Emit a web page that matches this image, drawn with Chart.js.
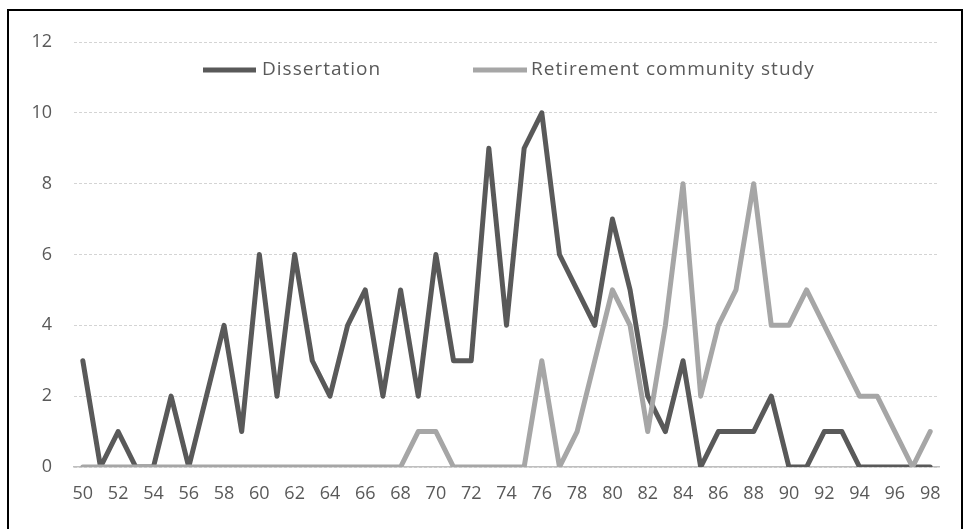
<!DOCTYPE html>
<html><head><meta charset="utf-8">
<script src="https://cdn.jsdelivr.net/npm/chart.js@4/dist/chart.umd.min.js"></script>
<style>
html,body{margin:0;padding:0;background:#fff;}
#wrap{position:relative;width:964px;height:529px;overflow:hidden;background:#fff;}
#frame{position:absolute;left:7px;top:9px;width:956px;height:560px;border:2px solid #000;box-sizing:border-box;pointer-events:none;}
canvas{position:absolute;left:0;top:0;}
</style></head><body>
<div id="wrap"><canvas id="c" width="964" height="529"></canvas><div id="frame"></div></div>
<script>
const categories = ['50','51','52','53','54','55','56','57','58','59','60','61','62','63','64','65','66','67','68','69','70','71','72','73','74','75','76','77','78','79','80','81','82','83','84','85','86','87','88','89','90','91','92','93','94','95','96','97','98'];
const dissertation = [3,0,1,0,0,2,0,2,4,1,6,2,6,3,2,4,5,2,5,2,6,3,3,9,4,9,10,6,5,4,7,5,2,1,3,0,1,1,1,2,0,0,1,1,0,0,0,0,0];
const retirement = [0,0,0,0,0,0,0,0,0,0,0,0,0,0,0,0,0,0,0,1,1,0,0,0,0,0,3,0,1,3,5,4,1,4,8,2,4,5,8,4,4,5,4,3,2,2,1,0,1];
const seriesNames = ['Dissertation','Retirement community study'];
const seriesColors = ['#595959','#a6a6a6'];
const yTicks = [0,2,4,6,8,10,12];

const FONT = '"Open Sans", "Liberation Sans", sans-serif';
const TEXT = '#595959';

const innerLegend = {
  id: 'innerLegend',
  afterDraw(chart) {
    const ctx = chart.ctx;
    const pos = [{x0:203, x1:256, tx:262}, {x0:473, x1:527, tx:531}];
    const y = 70;
    ctx.save();
    chart.data.datasets.forEach((ds, i) => {
      const p = pos[i];
      ctx.strokeStyle = ds.borderColor;
      ctx.lineWidth = 5;
      ctx.lineCap = 'butt';
      ctx.beginPath(); ctx.moveTo(p.x0, y); ctx.lineTo(p.x1, y); ctx.stroke();
      ctx.fillStyle = TEXT;
      ctx.font = '19px ' + FONT;
      try { ctx.letterSpacing = '1px'; } catch (e) {}
      ctx.textBaseline = 'middle';
      ctx.textAlign = 'left';
      ctx.fillText(ds.label, p.tx, y);
    });
    ctx.restore();
  }
};

new Chart(document.getElementById('c'), {
  type: 'line',
  data: {
    labels: categories,
    datasets: [
      {label: seriesNames[0], data: dissertation, borderColor: seriesColors[0], backgroundColor: seriesColors[0], borderWidth: 5, pointRadius: 0, tension: 0, borderJoinStyle: 'round', borderCapStyle: 'round', order: 1},
      {label: seriesNames[1], data: retirement, borderColor: seriesColors[1], backgroundColor: seriesColors[1], borderWidth: 5, pointRadius: 0, tension: 0, borderJoinStyle: 'round', borderCapStyle: 'round', order: 0}
    ]
  },
  options: {
    responsive: false,
    animation: false,
    devicePixelRatio: 1,
    layout: {padding: {left: 0, right: 25, top: 42, bottom: 0}},
    plugins: {legend: {display: false}, tooltip: {enabled: false}},
    scales: {
      x: {
        offset: true,
        grid: {display: false, drawTicks: false},
        border: {display: true, color: '#bfbfbf', width: 1.5},
        ticks: {
          autoSkip: false, maxRotation: 0, padding: 16,
          color: TEXT, font: {family: FONT, size: 18},
          callback: function(v, i) { return i % 2 === 0 ? categories[i] : ''; }
        },
        afterFit(scale) { scale.height = 62; }
      },
      y: {
        min: 0, max: 12,
        afterBuildTicks(scale) { scale.ticks = yTicks.map(v => ({value: v})); },
        grid: {color: '#d4d4d4', lineWidth: 1, drawTicks: false},
        border: {display: false, dash: [3, 2]},
        ticks: {padding: 22, color: TEXT, font: {family: FONT, size: 18}},
        afterFit(scale) { scale.width = 74; }
      }
    }
  },
  plugins: [innerLegend]
});
</script>
</body></html>
